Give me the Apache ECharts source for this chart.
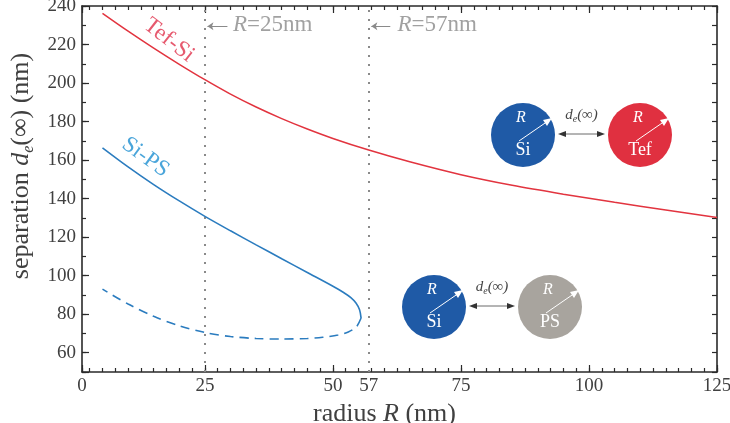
<!DOCTYPE html>
<html>
<head>
<meta charset="utf-8">
<script src="https://cdn.jsdelivr.net/npm/echarts@6/dist/echarts.min.js"></script>
<style>html,body{margin:0;padding:0;background:#fff}#c{width:730px;height:423px}</style>
</head>
<body>
<div id="c"></div>
<script>
// ---- data ----
const tefSiR   = [5, 10, 15, 20, 25, 30, 35, 40, 45, 50, 57, 65, 75, 85, 95, 105, 115, 125];
const tefSiSep = [236.2, 226.95, 218.15, 209.75, 201.75, 194.25, 187.55, 181.55, 176.15, 171.25, 165.2, 159.1, 152.4, 146.9, 142.3, 138.1, 134.1, 130.2];

const siPsUpperR   = [5, 10, 15, 20, 25, 30, 35, 40, 45, 50, 52, 53.5, 54.5, 55.2, 55.5];
const siPsUpperSep = [166.4, 156.5, 147.3, 138.8, 130.8, 123.3, 116.0, 108.8, 101.65, 94.5, 91.4, 88.6, 85.8, 82.3, 78];

const siPsLowerR   = [55.5, 54.6, 53, 51, 48, 45, 40, 35, 30, 25, 20, 15, 10, 5];
const siPsLowerSep = [78, 73.5, 70.8, 69.2, 68.0, 67.4, 67.1, 67.4, 68.4, 70.5, 74.0, 78.9, 85.3, 93.0];

const markedRadii = [25, 57];
const xLabelValues = [1, 25, 50, 57, 75, 100, 125];   // "0" is printed at the axis start
const yLabelValues = [60, 80, 100, 120, 140, 160, 180, 200, 220, 240];

// ---- helpers ----
const zip = (a, b) => a.map((v, i) => [v, b[i]]);
const FONT = 'Liberation Serif';
const X_MIN = 1, X_MAX = 125, Y_MIN = 50, Y_MAX = 240;

const axisColor = '#2a2a2a';
const labelColor = '#404040';
const axisLineStyle = { color: axisColor, width: 1.6 };
const tickLine = { color: axisColor, width: 1.2 };

const red = '#e2343f';
const blue = '#2b7cbf';

const noteRich = {
  i: { fontFamily: FONT, fontSize: 23, fontStyle: 'italic', color: '#8a8a8a' },
  n: { fontFamily: FONT, fontSize: 23, color: '#8a8a8a' }
};

// ---- inset schematic (illustration only) ----
function inset(cx1, cx2, cy, col2, name2) {
  const r = 32, els = [];
  const circle = (cx, col, name) => {
    els.push({ type: 'circle', shape: { cx, cy, r }, style: { fill: col } });
    els.push({ type: 'line', shape: { x1: cx - 4, y1: cy + 6, x2: cx + 25, y2: cy - 14 }, style: { stroke: '#fff', lineWidth: 1 } });
    els.push({ type: 'polygon', shape: { points: [[cx + 29, cy - 17], [cx + 20, cy - 15], [cx + 24, cy - 9]] }, style: { fill: '#fff' } });
    els.push({ type: 'text', x: cx - 2, y: cy - 17, style: { text: 'R', fontFamily: FONT, fontStyle: 'italic', fontSize: 16, fill: '#fff', align: 'center', verticalAlign: 'middle' } });
    els.push({ type: 'text', x: cx, y: cy + 15, style: { text: name, fontFamily: FONT, fontSize: 18, fill: '#fff', align: 'center', verticalAlign: 'middle' } });
  };
  circle(cx1, '#1f5aa6', 'Si');
  circle(cx2, col2, name2);
  const ax1 = cx1 + r + 3, ax2 = cx2 - r - 3, ay = cy - 1;
  els.push({ type: 'line', shape: { x1: ax1 + 4, y1: ay, x2: ax2 - 4, y2: ay }, style: { stroke: '#444', lineWidth: 0.8 } });
  els.push({ type: 'polygon', shape: { points: [[ax1, ay], [ax1 + 8, ay - 3], [ax1 + 8, ay + 3]] }, style: { fill: '#333' } });
  els.push({ type: 'polygon', shape: { points: [[ax2, ay], [ax2 - 8, ay - 3], [ax2 - 8, ay + 3]] }, style: { fill: '#333' } });
  els.push({
    type: 'text', x: (ax1 + ax2) / 2, y: cy - 20,
    style: {
      text: '{i|d}{s|e}{n|(∞)}', align: 'center', verticalAlign: 'middle',
      rich: {
        i: { fontFamily: FONT, fontStyle: 'italic', fontSize: 15, fill: '#444' },
        s: { fontFamily: FONT, fontStyle: 'italic', fontSize: 10, fill: '#444', padding: [8, 0, 0, 0] },
        n: { fontFamily: FONT, fontStyle: 'italic', fontSize: 15, fill: '#444' }
      }
    }
  });
  return els;
}

// axis factory: tick-only overlay axes share the same scale.
// minInterval = maxInterval pins the step while ticks stay on multiples of it.
function xAx(pos, step, len, withLine) {
  return {
    type: 'value', min: X_MIN, max: X_MAX, minInterval: step, maxInterval: step, splitNumber: 50, position: pos,
    axisLine: { show: withLine, onZero: false, lineStyle: axisLineStyle },
    axisTick: { show: true, inside: true, length: len, lineStyle: tickLine },
    axisLabel: { show: false }, splitLine: { show: false }
  };
}
function yAx(pos, step, len, withLine) {
  return {
    type: 'value', min: Y_MIN, max: Y_MAX, minInterval: step, maxInterval: step, splitNumber: 20, position: pos,
    axisLine: { show: withLine, onZero: false, lineStyle: axisLineStyle },
    axisTick: { show: true, inside: true, length: len, lineStyle: tickLine },
    axisLabel: { show: false }, splitLine: { show: false }
  };
}

const xMain = xAx('bottom', 25, 7, true);
xMain.axisLabel = {
  show: true, customValues: xLabelValues, margin: 5,
  formatter: v => (v === 1 ? '0' : String(v)),
  fontFamily: FONT, fontSize: 19, color: labelColor
};
xMain.name = 'radius {i|R} (nm)';
xMain.nameLocation = 'middle';
xMain.nameGap = 25;
xMain.nameTextStyle = {
  fontFamily: FONT, fontSize: 26, color: labelColor, padding: [0, 30, 0, 0],
  rich: { i: { fontFamily: FONT, fontSize: 26, fontStyle: 'italic', color: labelColor } }
};

const yMain = yAx('left', 20, 7, true);
yMain.axisLabel = { show: true, customValues: yLabelValues, margin: 6, fontFamily: FONT, fontSize: 19, color: labelColor };
yMain.name = '{a|separation }{i|d}{s|e}{a|(∞) (nm)}';
yMain.nameLocation = 'middle';
yMain.nameGap = 36;
yMain.nameTextStyle = {
  padding: [0, 0, 0, 46],
  rich: {
    a: { fontFamily: FONT, fontSize: 26, color: labelColor },
    i: { fontFamily: FONT, fontSize: 26, fontStyle: 'italic', color: labelColor },
    s: { fontFamily: FONT, fontSize: 16, fontStyle: 'italic', color: labelColor, padding: [15, 0, 0, 0] }
  }
};

const chart = echarts.init(document.getElementById('c'), null, { renderer: 'canvas' });
chart.setOption({
  animation: false,
  backgroundColor: '#fff',
  grid: { left: 82, right: 13, top: 6, bottom: 51, containLabel: false, outerBoundsMode: 'none' },
  xAxis: [
    xMain,
    xAx('bottom', 2.5, 4, false),
    xAx('top', 25, 7, true),
    xAx('top', 2.5, 4, false)
  ],
  yAxis: [
    yMain,
    yAx('left', 10, 4, false),
    yAx('right', 10, 5, true)
  ],
  series: [
    {
      type: 'line', name: 'Tef-Si', data: zip(tefSiR, tefSiSep), smooth: 0.3,
      showSymbol: false, lineStyle: { color: red, width: 1.5 }, z: 5
    },
    {
      type: 'line', name: 'Si-PS upper', data: zip(siPsUpperR, siPsUpperSep), smooth: 0.3,
      showSymbol: false, lineStyle: { color: blue, width: 1.6 }, z: 5
    },
    {
      type: 'line', name: 'Si-PS lower', data: zip(siPsLowerR, siPsLowerSep), smooth: 0.3,
      showSymbol: false, lineStyle: { color: blue, width: 1.6, type: [9, 6] }, z: 5
    },
    {
      type: 'scatter', symbolSize: 0, silent: true, z: 6,
      data: [
        { value: [30.5, 230], label: { show: true, position: 'right', distance: 0, formatter: '{i|R}{n|=25nm}', rich: noteRich } },
        { value: [62.6, 230], label: { show: true, position: 'right', distance: 0, formatter: '{i|R}{n|=57nm}', rich: noteRich } },
        { value: [18.0, 222.3], label: { show: true, position: 'inside', rotate: -38, formatter: 'Tef-Si', fontFamily: FONT, fontSize: 23, color: '#e0304a' } },
        { value: [13.4, 161.5], label: { show: true, position: 'inside', rotate: -36, formatter: 'Si-PS', fontFamily: FONT, fontSize: 23, color: '#1d8ed1' } }
      ],
      markLine: {
        silent: true, animation: false,
        symbol: ['none', 'none'],
        label: { show: false },
        lineStyle: { color: '#8a8a8a', width: 2, type: [2, 7] },
        data: markedRadii.map(r => ({ xAxis: r })).concat([
          [{ coord: [29.4, 229.5], symbol: 'none', lineStyle: { type: 'solid', width: 1, color: '#8a8a8a' } },
           { coord: [25.5, 229.5], symbol: 'arrow', symbolSize: 6 }],
          [{ coord: [61.2, 229.5], symbol: 'none', lineStyle: { type: 'solid', width: 1, color: '#8a8a8a' } },
           { coord: [57.5, 229.5], symbol: 'arrow', symbolSize: 6 }]
        ])
      }
    }
  ],
  graphic: inset(523, 640, 135, '#e03040', 'Tef').concat(inset(434, 550, 307, '#a8a49e', 'PS'))
});
</script>
</body>
</html>
